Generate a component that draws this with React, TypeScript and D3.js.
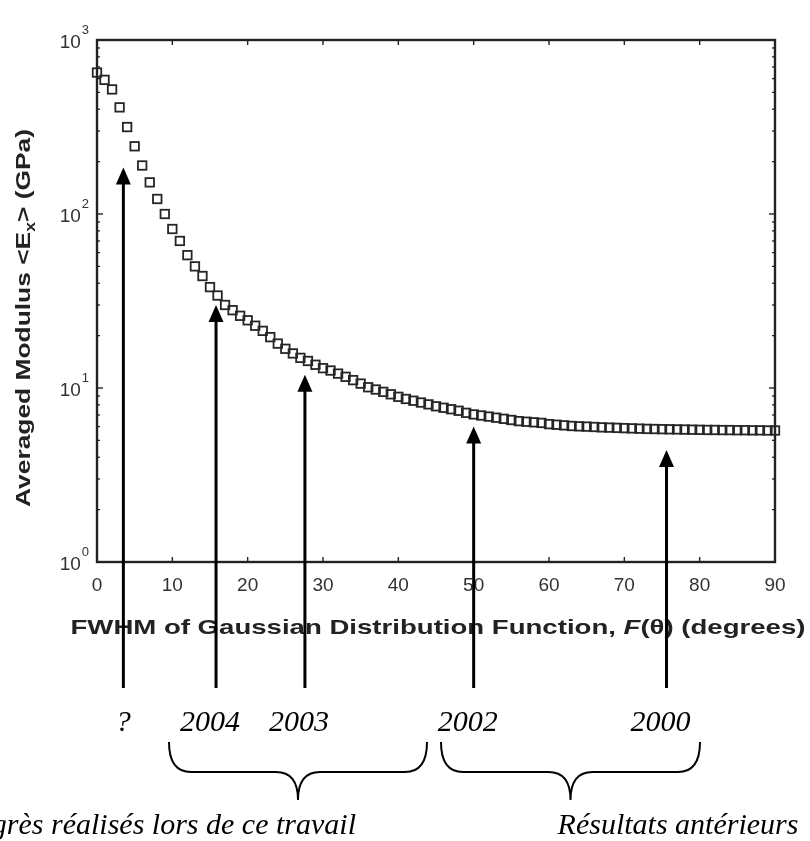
import React from 'react';
import * as d3 from 'd3';

// FWHM (degrees) and averaged modulus <Ex> (GPa)
const fwhm = d3.range(0, 91);
const modulus = [
  650, 590, 520, 410, 316, 245, 190, 152, 122, 100,
  82, 70, 58, 50, 44, 38, 34, 30, 28, 26,
  24.5, 22.8, 21.3, 19.6, 18, 16.8, 15.8, 14.9, 14.3, 13.6,
  13, 12.6, 12.1, 11.6, 11.1, 10.6, 10.1, 9.8, 9.5, 9.2,
  8.9, 8.65, 8.45, 8.25, 8.05, 7.85, 7.7, 7.55, 7.4, 7.2,
  7.05, 6.95, 6.85, 6.75, 6.65, 6.55, 6.45, 6.4, 6.35, 6.3,
  6.2, 6.15, 6.1, 6.05, 6.02, 6.0, 5.97, 5.94, 5.92, 5.9,
  5.88, 5.86, 5.84, 5.82, 5.81, 5.8, 5.79, 5.78, 5.77, 5.76,
  5.75, 5.74, 5.74, 5.73, 5.73, 5.72, 5.72, 5.71, 5.71, 5.7, 5.7,
];

const xTicks = [0, 10, 20, 30, 40, 50, 60, 70, 80, 90];
const yExponents = [0, 1, 2, 3];

// arrows pointing at the curve, with the year written under each
const arrowX = [3.5, 15.8, 27.6, 50, 75.6];
const arrowTip = [185, 30, 11.9, 6.0, 4.4];
const arrowLabels = ['?', '2004', '2003', '2002', '2000'];

const groupLabels = ['Progrès réalisés lors de ce travail', 'Résultats antérieurs'];

const W = 810;
const H = 841;
const margin = { top: 40, right: 35, bottom: 279, left: 97 };

const App: React.FC = () => {
  const x = d3.scaleLinear().domain([0, 90]).range([margin.left, W - margin.right]);
  const y = d3.scaleLog().domain([1, 1000]).range([H - margin.bottom, margin.top]);
  const [x0, x1] = x.range();
  const [y0, y1] = y.range();

  const minor: number[] = [];
  yExponents.slice(0, -1).forEach(e => {
    for (let m = 2; m <= 9; m++) minor.push(m * Math.pow(10, e));
  });

  const axisColor = '#222';
  const sans = 'Arial, "Liberation Sans", Helvetica, sans-serif';
  const serif = '"Liberation Serif", "Times New Roman", serif';
  const ms = 8.5;

  const braceY = 742;
  const braceMid = 772;
  const braceTip = 800;
  const brace = (a: number, b: number) => {
    const t = (a + b) / 2;
    const r = 22;
    return `M${a},${braceY} Q${a},${braceMid} ${a + r},${braceMid} L${t - r},${braceMid} Q${t},${braceMid} ${t},${braceTip} ` +
      `Q${t},${braceMid} ${t + r},${braceMid} L${b - r},${braceMid} Q${b},${braceMid} ${b},${braceY}`;
  };

  return (
    <svg width={W} height={H} style={{ position: 'absolute', left: 0, top: 0, background: '#fff' }}>
      <defs>
        <filter id="soft" x="-5%" y="-5%" width="110%" height="110%">
          <feGaussianBlur stdDeviation="0.55" />
        </filter>
      </defs>

      <g filter="url(#soft)">
        {/* frame */}
        <rect x={x0} y={y1} width={x1 - x0} height={y0 - y1} fill="none" stroke={axisColor} strokeWidth={2.4} />

        {/* x ticks top and bottom */}
        {xTicks.slice(1, -1).map(t => (
          <g key={'xt' + t}>
            <line x1={x(t)} x2={x(t)} y1={y0} y2={y0 - 5} stroke={axisColor} strokeWidth={1.4} />
            <line x1={x(t)} x2={x(t)} y1={y1} y2={y1 + 5} stroke={axisColor} strokeWidth={1.4} />
          </g>
        ))}

        {/* y ticks, major and minor, left and right */}
        {yExponents.slice(1, -1).map(e => (
          <g key={'yt' + e}>
            <line x1={x0} x2={x0 + 6} y1={y(Math.pow(10, e))} y2={y(Math.pow(10, e))} stroke={axisColor} strokeWidth={1.4} />
            <line x1={x1} x2={x1 - 6} y1={y(Math.pow(10, e))} y2={y(Math.pow(10, e))} stroke={axisColor} strokeWidth={1.4} />
          </g>
        ))}
        {minor.map(v => (
          <g key={'ym' + v}>
            <line x1={x0} x2={x0 + 3} y1={y(v)} y2={y(v)} stroke={axisColor} strokeWidth={1.3} />
            <line x1={x1} x2={x1 - 3} y1={y(v)} y2={y(v)} stroke={axisColor} strokeWidth={1.3} />
          </g>
        ))}

        {/* x tick labels */}
        {xTicks.map(t => (
          <text key={'xl' + t} x={x(t)} y={y0 + 29} textAnchor="middle" fontFamily={sans} fontSize={19} fill="#333">
            {t}
          </text>
        ))}

        {/* y tick labels 10^n */}
        {yExponents.map(e => (
          <text key={'yl' + e} x={x0 - 8} y={y(Math.pow(10, e)) + 8} textAnchor="end" fontFamily={sans} fontSize={19} fill="#333">
            10
            <tspan dx={1} dy={-14} fontSize={13}>{e}</tspan>
          </text>
        ))}

        {/* data markers */}
        {fwhm.map((f, i) => (
          <rect key={'m' + i} x={x(f) - ms / 2} y={y(modulus[i]) - ms / 2} width={ms} height={ms}
            fill="none" stroke="#262626" strokeWidth={1.8} />
        ))}

        {/* axis titles */}
        <text x={(x0 + x1) / 2 + 2} y={y0 + 72} textAnchor="middle" fontFamily={sans} fontWeight="bold" fontSize={21}
          fill="#222" textLength={735} lengthAdjust="spacingAndGlyphs">
          FWHM of Gaussian Distribution Function, <tspan fontStyle="italic">F</tspan>(θ) (degrees)
        </text>
        <text transform={`translate(30,318) rotate(-90)`} textAnchor="middle" fontFamily={sans}
          fontWeight="bold" fontSize={21} fill="#222" textLength={378} lengthAdjust="spacingAndGlyphs">
          Averaged Modulus &lt;E<tspan dy={5} fontSize={14}>x</tspan><tspan dy={-5}>&gt; (GPa)</tspan>
        </text>
      </g>

      {/* annotation arrows */}
      {arrowX.map((a, i) => {
        const ax = x(a);
        const ty = y(arrowTip[i]);
        return (
          <g key={'ar' + i}>
            <line x1={ax} x2={ax} y1={688} y2={ty + 14} stroke="#000" strokeWidth={3} />
            <path d={`M${ax},${ty} L${ax - 7.5},${ty + 17} L${ax + 7.5},${ty + 17} Z`} fill="#000" />
            <text x={ax - (i === 0 ? 0 : 6)} y={731} textAnchor="middle" fontFamily={serif} fontStyle="italic"
              fontSize={30} fill="#000">
              {arrowLabels[i]}
            </text>
          </g>
        );
      })}

      {/* grouping braces */}
      <path d={brace(169, 427)} fill="none" stroke="#000" strokeWidth={2} />
      <path d={brace(441, 700)} fill="none" stroke="#000" strokeWidth={2} />

      <text x={356} y={834} textAnchor="end" fontFamily={serif} fontStyle="italic" fontSize={30} fill="#000">
        {groupLabels[0]}
      </text>
      <text x={678} y={834} textAnchor="middle" fontFamily={serif} fontStyle="italic" fontSize={30} fill="#000">
        {groupLabels[1]}
      </text>
    </svg>
  );
};

export default App;
